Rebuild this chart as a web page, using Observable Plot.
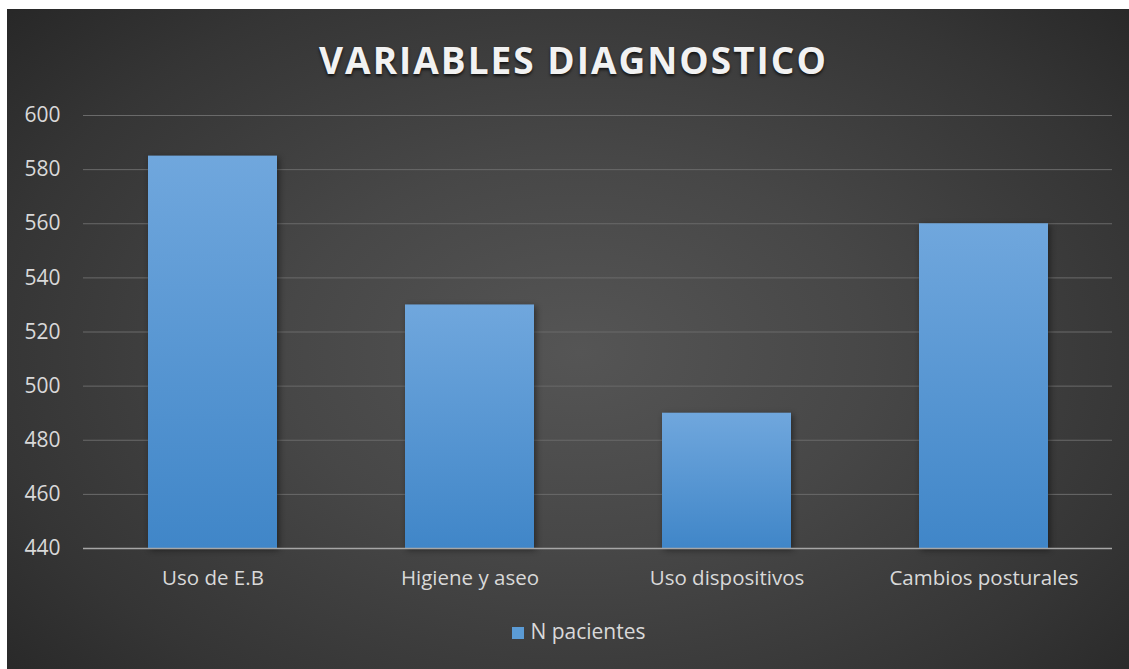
<!DOCTYPE html>
<html>
<head>
<meta charset="utf-8">
<script src="https://cdn.jsdelivr.net/npm/d3@7"></script>
<script src="https://cdn.jsdelivr.net/npm/@observablehq/plot@0.6"></script>
<style>
  html, body { margin: 0; padding: 0; background: #fff; width: 1129px; height: 669px; overflow: hidden; }
  #chart {
    position: absolute; left: 7px; top: 9px; width: 1122px; height: 660px;
    background: radial-gradient(ellipse 75% 85% at 51% 52%, #555555 0%, #474747 35%, #353535 70%, #222222 100%);
    font-family: "Open Sans", sans-serif;
  }
  #title {
    position: absolute; left: 11px; width: 1111px; top: 25px; text-align: center;
    color: #f2f2f2; font-weight: 700; font-size: 37px; letter-spacing: 2px;
    text-shadow: 0 2px 3px rgba(0,0,0,0.7);
  }
  #plot { position: absolute; left: 0; top: 80px; }
  #legend {
    position: absolute; left: 22px; width: 1100px; top: 608px; text-align: center;
    color: #d9d9d9; font-size: 21px;
  }
  #legend .sw { display: inline-block; width: 12px; height: 12px; background: #5b9bd5; margin-right: 6px; vertical-align: 0px; }
</style>
</head>
<body>
<div id="chart">
  <div id="title">VARIABLES DIAGNOSTICO</div>
  <div id="plot"></div>
  <div id="legend"><span class="sw"></span>N pacientes</div>
</div>
<script>
const categories = ["Uso de E.B", "Higiene y aseo", "Uso dispositivos", "Cambios posturales"];
const values = [585, 530, 490, 560];
const yTicks = [440, 460, 480, 500, 520, 540, 560, 580, 600];
const seriesName = "N pacientes";

const data = categories.map((c, i) => ({category: c, value: values[i]}));

const plot = Plot.plot({
  width: 1122,
  height: 509,
  marginTop: 26,
  marginBottom: 50,
  marginLeft: 76,
  marginRight: 17,
  style: {background: "transparent", fontFamily: "Open Sans, sans-serif", fontSize: "20px", color: "#d9d9d9", overflow: "visible"},
  x: {domain: categories, paddingInner: 0.5, paddingOuter: 0.25, label: null},
  y: {domain: [440, 600], label: null},
  marks: [
    Plot.gridY(yTicks.filter(t => t > 440), {stroke: "#6a6a6a", strokeOpacity: 1, strokeWidth: 1}),
    Plot.rectY(data, {x: "category", y1: 440, y2: "value", fill: "url(#barGrad)", title: d => `${seriesName}: ${d.value}`}),
    Plot.ruleY([440], {stroke: "#a6a6a6", strokeWidth: 1.5}),
    Plot.axisY(yTicks, {tickSize: 0, tickPadding: 23, fontSize: 21, fill: "#d9d9d9"}),
    Plot.axisX({tickSize: 0, tickPadding: 22, fontSize: 20.5, fill: "#d9d9d9"})
  ]
});

const svg = d3.select(plot);
const defs = svg.insert("defs", ":first-child");
const g = defs.append("linearGradient").attr("id", "barGrad").attr("x1", 0).attr("y1", 0).attr("x2", 0).attr("y2", 1);
g.append("stop").attr("offset", "0%").attr("stop-color", "#70a7dd");
g.append("stop").attr("offset", "100%").attr("stop-color", "#4086c8");
svg.selectAll("rect").style("filter", "drop-shadow(2px 2px 3px rgba(0,0,0,0.45))");

document.getElementById("plot").appendChild(plot);
</script>
</body>
</html>
